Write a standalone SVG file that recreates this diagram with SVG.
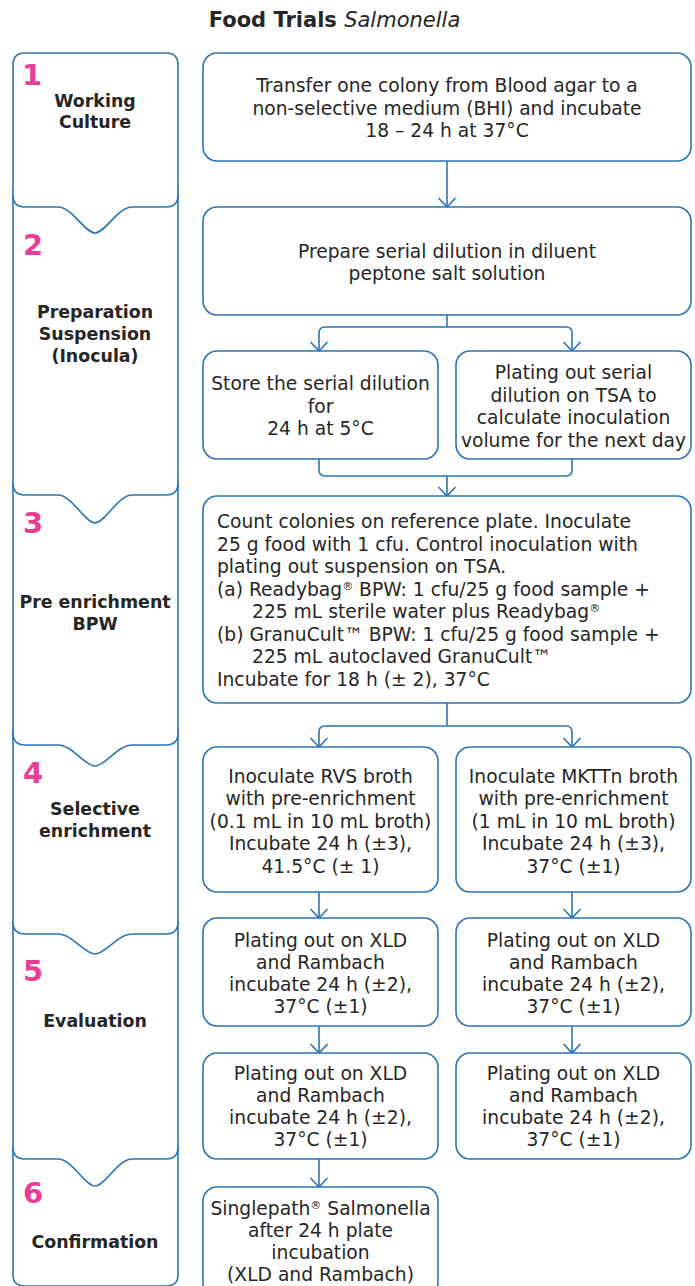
<svg xmlns="http://www.w3.org/2000/svg" width="695" height="1286" viewBox="0 0 695 1286">
<defs>
<style>
.stage{fill:#fff;stroke:#2a74b8;stroke-width:1.6}
.box{fill:#fff;stroke:#2a74b8;stroke-width:1.6}
.con{fill:none;stroke:#2a74b8;stroke-width:1.6}
.t{font-family:"DejaVu Sans",Verdana,sans-serif;font-size:18.7px;fill:#262626;text-anchor:middle}
.tl{font-family:"DejaVu Sans",Verdana,sans-serif;font-size:18.7px;fill:#262626}
.lbl{font-family:"DejaVu Sans",Verdana,sans-serif;font-size:17.4px;font-weight:bold;fill:#262626;text-anchor:middle}
.num{font-family:"DejaVu Sans",sans-serif;font-size:29px;font-weight:bold;fill:#e83e97}
.sup{font-size:11px}
</style>
<marker id="ah" markerUnits="userSpaceOnUse" markerWidth="20" markerHeight="20" viewBox="-10 -10 20 20" refX="0" refY="0" orient="auto" overflow="visible">
<path d="M-9,-8.5 L0,0 L-9,8.5" fill="none" stroke="#2a74b8" stroke-width="1.6"/>
</marker>
</defs>
<rect width="695" height="1286" fill="#fff"/>
<text x="334.5" y="27" style="font-family:'DejaVu Sans',Verdana,sans-serif;font-size:21px;fill:#262626;text-anchor:middle"><tspan font-weight="bold">Food Trials </tspan><tspan font-style="italic">Salmonella</tspan></text>

<g id="stage6">
<path class="stage" d="M13,1275 V1147 Q13,1135 25,1135 H166 Q178,1135 178,1147 V1275 Q178,1286 166,1286 H25 Q13,1286 13,1275 Z"/>
<text class="num" x="23" y="1203">6</text>
<text class="lbl" x="95" y="1248">Confirmation</text>
</g>
<g id="stage5">
<path class="stage" d="M13,1147 V922 Q13,910 25,910 H166 Q178,910 178,922 V1147 Q178,1159 166,1159 H132 C118,1159 105,1186 95,1186 C85,1186 72,1159 58,1159 H25 Q13,1159 13,1147 Z"/>
<text class="num" x="23" y="981">5</text>
<text class="lbl" x="95" y="1027">Evaluation</text>
</g>
<g id="stage4">
<path class="stage" d="M13,922 V732 Q13,720 25,720 H166 Q178,720 178,732 V922 Q178,934 166,934 H132 C118,934 105,954 95,954 C85,954 72,934 58,934 H25 Q13,934 13,922 Z"/>
<text class="num" x="23" y="783">4</text>
<text class="lbl" x="95" y="815">Selective</text>
<text class="lbl" x="95" y="837">enrichment</text>
</g>
<g id="stage3">
<path class="stage" d="M13,733 V482 Q13,470 25,470 H166 Q178,470 178,482 V733 Q178,745 166,745 H132 C118,745 105,766 95,766 C85,766 72,745 58,745 H25 Q13,745 13,733 Z"/>
<text class="num" x="23" y="533">3</text>
<text class="lbl" x="95" y="608">Pre enrichment</text>
<text class="lbl" x="95" y="630">BPW</text>
</g>
<g id="stage2">
<path class="stage" d="M13,483 V192 Q13,180 25,180 H166 Q178,180 178,192 V483 Q178,495 166,495 H132 C118,495 105,523 95,523 C85,523 72,495 58,495 H25 Q13,495 13,483 Z"/>
<text class="num" x="23" y="255">2</text>
<text class="lbl" x="95" y="318">Preparation</text>
<text class="lbl" x="95" y="340">Suspension</text>
<text class="lbl" x="95" y="362">(Inocula)</text>
</g>
<g id="stage1">
<path class="stage" d="M13,195 V65 Q13,53 25,53 H166 Q178,53 178,65 V195 Q178,207 166,207 H132 C118,207 105,233 95,233 C85,233 72,207 58,207 H25 Q13,207 13,195 Z"/>
<text class="num" x="22" y="85">1</text>
<text class="lbl" x="95" y="107">Working</text>
<text class="lbl" x="95" y="128">Culture</text>
</g>

<g id="connectors">
<path class="con" d="M447,161 V207" marker-end="url(#ah)"/>
<path class="con" d="M447,315 V327"/>
<path class="con" d="M447,327 H325 Q319,327 319,333 V351" marker-end="url(#ah)"/>
<path class="con" d="M447,327 H566 Q572,327 572,333 V351" marker-end="url(#ah)"/>
<path class="con" d="M319,459 V470 Q319,476 325,476 H566 Q572,476 572,470 V459"/>
<path class="con" d="M447,476 V496" marker-end="url(#ah)"/>
<path class="con" d="M447,703 V726"/>
<path class="con" d="M447,726 H325 Q319,726 319,732 V747" marker-end="url(#ah)"/>
<path class="con" d="M447,726 H566 Q572,726 572,732 V747" marker-end="url(#ah)"/>
<path class="con" d="M319,892 V918" marker-end="url(#ah)"/>
<path class="con" d="M572,892 V918" marker-end="url(#ah)"/>
<path class="con" d="M319,1026 V1053" marker-end="url(#ah)"/>
<path class="con" d="M572,1026 V1053" marker-end="url(#ah)"/>
<path class="con" d="M319,1159 V1187" marker-end="url(#ah)"/>
</g>

<g id="n1">
<rect class="box" x="203" y="53" width="488" height="108" rx="14"/>
<text class="t" x="447" y="92">Transfer one colony from Blood agar to a</text>
<text class="t" x="447" y="114.5">non-selective medium (BHI) and incubate</text>
<text class="t" x="447" y="137">18 – 24 h at 37°C</text>
</g>
<g id="n2">
<rect class="box" x="203" y="207" width="488" height="108" rx="14"/>
<text class="t" x="447" y="258">Prepare serial dilution in diluent</text>
<text class="t" x="447" y="280">peptone salt solution</text>
</g>
<g id="n3a">
<rect class="box" x="203" y="351" width="235" height="108" rx="14"/>
<text class="t" x="320.5" y="390">Store the serial dilution</text>
<text class="t" x="320.5" y="413">for</text>
<text class="t" x="320.5" y="435">24 h at 5°C</text>
</g>
<g id="n3b">
<rect class="box" x="456" y="351" width="235" height="108" rx="14"/>
<text class="t" x="573.5" y="379">Plating out serial</text>
<text class="t" x="573.5" y="402">dilution on TSA to</text>
<text class="t" x="573.5" y="424">calculate inoculation</text>
<text class="t" x="573.5" y="447">volume for the next day</text>
</g>
<g id="n4">
<rect class="box" x="203" y="496" width="488" height="207" rx="14"/>
<text class="tl" x="217" y="528">Count colonies on reference plate. Inoculate</text>
<text class="tl" x="217" y="550.5">25 g food with 1 cfu. Control inoculation with</text>
<text class="tl" x="217" y="573">plating out suspension on TSA.</text>
<text class="tl" x="217" y="595.5">(a) Readybag<tspan class="sup" baseline-shift="super">®</tspan> BPW: 1 cfu/25 g food sample +</text>
<text class="tl" x="252" y="618">225 mL sterile water plus Readybag<tspan class="sup" baseline-shift="super">®</tspan></text>
<text class="tl" x="217" y="640.5">(b) GranuCult™ BPW: 1 cfu/25 g food sample +</text>
<text class="tl" x="252" y="663">225 mL autoclaved GranuCult™</text>
<text class="tl" x="217" y="685.5">Incubate for 18 h (± 2), 37°C</text>
</g>
<g id="n5a">
<rect class="box" x="203" y="747" width="235" height="145" rx="14"/>
<text class="t" x="320.5" y="782.5">Inoculate RVS broth</text>
<text class="t" x="320.5" y="805">with pre-enrichment</text>
<text class="t" x="320.5" y="827.5">(0.1 mL in 10 mL broth)</text>
<text class="t" x="320.5" y="850">Incubate 24 h (±3),</text>
<text class="t" x="320.5" y="872.5">41.5°C (± 1)</text>
</g>
<g id="n5b">
<rect class="box" x="456" y="747" width="235" height="145" rx="14"/>
<text class="t" x="573.5" y="782.5">Inoculate MKTTn broth</text>
<text class="t" x="573.5" y="805">with pre-enrichment</text>
<text class="t" x="573.5" y="827.5">(1 mL in 10 mL broth)</text>
<text class="t" x="573.5" y="850">Incubate 24 h (±3),</text>
<text class="t" x="573.5" y="872.5">37°C (±1)</text>
</g>
<g id="n6a">
<rect class="box" x="203" y="918" width="235" height="108" rx="14"/>
<text class="t" x="320.5" y="947">Plating out on XLD</text>
<text class="t" x="320.5" y="969">and Rambach</text>
<text class="t" x="320.5" y="991">incubate 24 h (±2),</text>
<text class="t" x="320.5" y="1013">37°C (±1)</text>
</g>
<g id="n6b">
<rect class="box" x="456" y="918" width="235" height="108" rx="14"/>
<text class="t" x="573.5" y="947">Plating out on XLD</text>
<text class="t" x="573.5" y="969">and Rambach</text>
<text class="t" x="573.5" y="991">incubate 24 h (±2),</text>
<text class="t" x="573.5" y="1013">37°C (±1)</text>
</g>
<g id="n7a">
<rect class="box" x="203" y="1053" width="235" height="106" rx="14"/>
<text class="t" x="320.5" y="1080">Plating out on XLD</text>
<text class="t" x="320.5" y="1102">and Rambach</text>
<text class="t" x="320.5" y="1124">incubate 24 h (±2),</text>
<text class="t" x="320.5" y="1146">37°C (±1)</text>
</g>
<g id="n7b">
<rect class="box" x="456" y="1053" width="235" height="106" rx="14"/>
<text class="t" x="573.5" y="1080">Plating out on XLD</text>
<text class="t" x="573.5" y="1102">and Rambach</text>
<text class="t" x="573.5" y="1124">incubate 24 h (±2),</text>
<text class="t" x="573.5" y="1146">37°C (±1)</text>
</g>
<g id="n8">
<rect class="box" x="203" y="1187" width="235" height="110" rx="14"/>
<text class="t" x="320.5" y="1215">Singlepath<tspan class="sup" baseline-shift="super">®</tspan> Salmonella</text>
<text class="t" x="320.5" y="1237">after 24 h plate</text>
<text class="t" x="320.5" y="1259">incubation</text>
<text class="t" x="320.5" y="1281">(XLD and Rambach)</text>
</g>
</svg>
